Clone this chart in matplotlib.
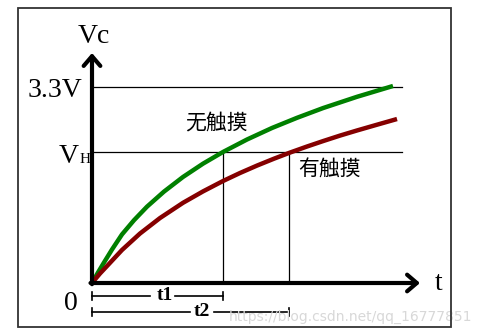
import matplotlib
matplotlib.use("Agg")
import matplotlib.pyplot as plt
from matplotlib.patches import Rectangle

# ---- data (t in arbitrary units, V in volts) ----
t_green = [0, 0.2, 0.4, 0.667, 1.0, 1.4, 1.833, 2.4, 3.033, 3.7, 4.367, 5.167, 6.0, 6.833, 7.7, 8.833, 10.033]
v_green = [0, 0.177, 0.345, 0.564, 0.818, 1.057, 1.285, 1.539, 1.785, 2.009, 2.206, 2.416, 2.610, 2.781, 2.945, 3.135, 3.317]
t_red = [0, 0.267, 0.533, 1.0, 1.6, 2.267, 3.033, 3.7, 4.367, 4.933, 5.5, 6.067, 6.6, 7.167, 7.7, 8.267, 8.833, 9.5, 10.167]
v_red = [0, 0.16, 0.303, 0.556, 0.833, 1.094, 1.350, 1.542, 1.717, 1.852, 1.977, 2.093, 2.196, 2.298, 2.389, 2.482, 2.568, 2.665, 2.761]
v_max = 3.3
v_high = 2.206
t1 = 4.367
t2 = 6.57
label_nt = "无触摸"
label_t = "有触摸"

# pixel layout helpers
W, H = 480, 335
ox, oy = 92, 283          # origin in px
px_t = 30.0               # px per time unit
px_v = 196 / 3.3          # px per volt

fig = plt.figure(figsize=(W / 100, H / 100), dpi=100)
ax = fig.add_axes([0, 0, 1, 1])
ax.set_xlim(-ox / px_t, (W - ox) / px_t)
ax.set_ylim(-(H - oy) / px_v, oy / px_v)
ax.axis("off")

# outer frame
fig.patches.append(Rectangle((18 / W, 1 - 327 / H), (451 - 18) / W, (327 - 8) / H,
                             transform=fig.transFigure, fill=False,
                             edgecolor="#333333", linewidth=1.3))

serif = ["Liberation Serif", "DejaVu Serif"]
cjk = ["Noto Sans CJK SC", "DejaVu Sans"]

# thin reference lines
ax.plot([0, 10.33], [v_max, v_max], color="black", lw=0.9)
ax.plot([0, 10.33], [v_high, v_high], color="black", lw=0.9)
ax.plot([t1, t1], [0, v_high], color="black", lw=0.9)
ax.plot([t2, t2], [0, v_high], color="black", lw=0.9)

# curves
ax.plot(t_green, v_green, color="#008000", lw=3.2, solid_joinstyle="round", solid_capstyle="butt", zorder=4)
ax.plot(t_red, v_red, color="#850000", lw=3.2, solid_joinstyle="round", solid_capstyle="butt", zorder=4)

# axes with arrows
ax.annotate("", xy=(0, (oy - 53) / px_v), xytext=(0, -0.02),
            arrowprops=dict(arrowstyle="->,head_length=0.35,head_width=0.3",
                            lw=3.0, color="black", shrinkA=0, shrinkB=0,
                            mutation_scale=20), zorder=5)
ax.annotate("", xy=((420 - ox) / px_t, 0), xytext=(-0.05, 0),
            arrowprops=dict(arrowstyle="->,head_length=0.35,head_width=0.3",
                            lw=3.0, color="black", shrinkA=0, shrinkB=0,
                            mutation_scale=20), zorder=5)

# axis texts
ax.text(0.05, (oy - 43) / px_v, "Vc", family=serif, fontsize=20, ha="center", va="baseline")
ax.text((82 - ox) / px_t, (oy - 97) / px_v, "3.3V", family=serif, fontsize=20, ha="right", va="baseline")
ax.text((79 - ox) / px_t, (oy - 163) / px_v, "V", family=serif, fontsize=20, ha="right", va="baseline")
ax.text((79.5 - ox) / px_t, (oy - 163) / px_v, "H", family=serif, fontsize=11, ha="left", va="baseline")
ax.text((71 - ox) / px_t, (oy - 310) / px_v, "0", family=serif, fontsize=20, ha="center", va="baseline")
ax.text((439 - ox) / px_t, (oy - 290) / px_v, "t", family=serif, fontsize=20, ha="center", va="baseline")

# curve labels
ax.text((216 - ox) / px_t, (oy - 123) / px_v, label_nt, family=cjk, fontsize=15, ha="center", va="center")
ax.text((330 - ox) / px_t, (oy - 169) / px_v, label_t, family=cjk, fontsize=15, ha="center", va="center")

# time brackets
def bracket(t_end, y_px, gap, label, lx):
    yv = (oy - y_px) / px_v
    dy = 4 / px_v
    ax.plot([0, gap[0]], [yv, yv], color="black", lw=1.2)
    ax.plot([gap[1], t_end], [yv, yv], color="black", lw=1.2)
    ax.plot([0, 0], [yv - dy, yv + dy], color="black", lw=1.2)
    ax.plot([t_end, t_end], [yv - dy, yv + dy], color="black", lw=1.2)
    ax.text(lx, yv, label, family=serif, fontsize=14, fontweight="bold", ha="center", va="center")

bracket(t1, 296, ((150 - ox) / px_t, (175 - ox) / px_t), "t1", (165 - ox) / px_t)
bracket(t2, 312, ((190 - ox) / px_t, (214 - ox) / px_t), "t2", (202 - ox) / px_t)

# watermark
ax.text((472 - ox) / px_t, (oy - 317) / px_v, "https://blog.csdn.net/qq_16777851",
        family=["DejaVu Sans"], fontsize=10, color="#d8d8d8", ha="right", va="center", zorder=6)

fig.savefig("out.png", dpi=100)
